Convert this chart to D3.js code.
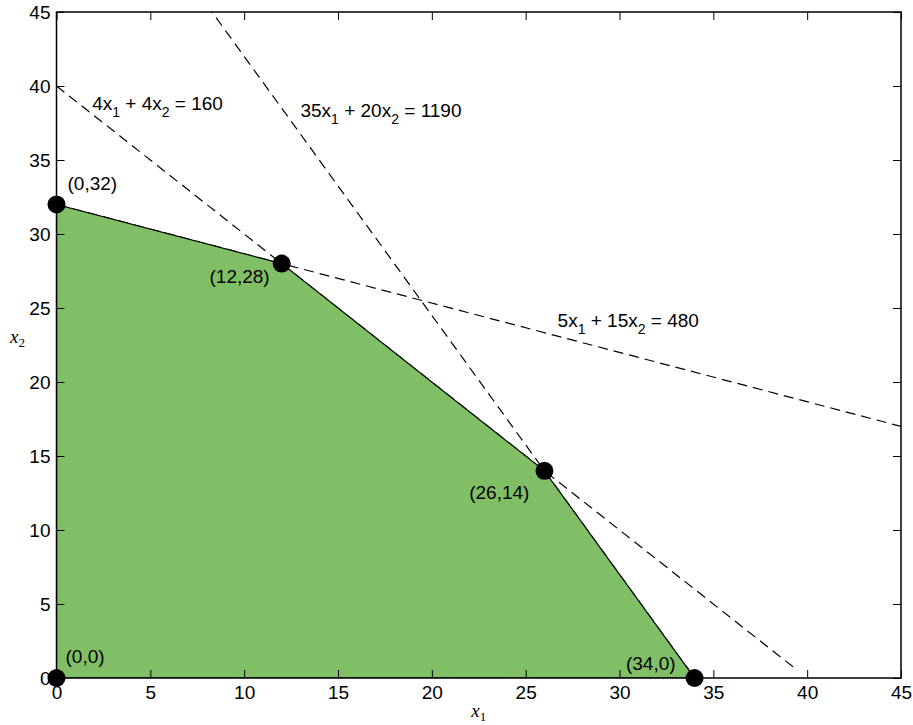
<!DOCTYPE html>
<html>
<head>
<meta charset="utf-8">
<script src="https://cdn.jsdelivr.net/npm/d3@7"></script>
<style>
  body { margin: 0; background: #fff; }
  text { font-family: "Liberation Sans", Arial, sans-serif; }
</style>
</head>
<body>
<svg id="chart" width="913" height="725"></svg>
<script>
// Feasible region corners (x1, x2)
const vertexX = [0, 0, 12, 26, 34];
const vertexY = [0, 32, 28, 14, 0];
const vertexLabels = ["(0,0)", "(0,32)", "(12,28)", "(26,14)", "(34,0)"];

// Constraint lines a*x1 + b*x2 = c
const coefA = [4, 35, 5];
const coefB = [4, 20, 15];
const coefC = [160, 1190, 480];

const xTicks = [0, 5, 10, 15, 20, 25, 30, 35, 40, 45];
const yTicks = [0, 5, 10, 15, 20, 25, 30, 35, 40, 45];

const svg = d3.select("#chart");
const margin = { top: 12, right: 12, bottom: 47, left: 56.5 };
const width = +svg.attr("width") - margin.left - margin.right;
const height = +svg.attr("height") - margin.top - margin.bottom;
const g = svg.append("g").attr("transform", `translate(${margin.left},${margin.top})`);

const x = d3.scaleLinear().domain([0, 45]).range([0, width]);
const y = d3.scaleLinear().domain([0, 45]).range([height, 0]);

svg.append("defs").append("clipPath").attr("id", "clip")
  .append("rect").attr("width", width).attr("height", height);

const plot = g.append("g").attr("clip-path", "url(#clip)");

// Constraint lines, dashed, across the whole x range
const lineData = coefA.map((a, i) => {
  const b = coefB[i], c = coefC[i];
  const pts = [];
  for (const xv of [0, 45]) pts.push([xv, (c - a * xv) / b]);
  return pts;
});
// the 4x1+4x2 line stops just short of the x1 axis
lineData[0] = [[0, 40], [39.5, 0.5]];

const line = d3.line().x(d => x(d[0])).y(d => y(d[1]));

plot.selectAll(".constraint")
  .data(lineData)
  .enter().append("path")
  .attr("class", "constraint")
  .attr("d", line)
  .attr("fill", "none")
  .attr("stroke", "#000")
  .attr("stroke-width", 1.2)
  .attr("stroke-dasharray", "10,6");

// Feasible region
const poly = vertexX.map((v, i) => [v, vertexY[i]]);
plot.append("path")
  .attr("d", line(poly) + "Z")
  .attr("fill", "#80bf66")
  .attr("stroke", "#000")
  .attr("stroke-width", 1.2);

// Axes box with inward ticks on all sides
const tickLen = 8;
g.append("g")
  .attr("transform", `translate(0,${height})`)
  .call(d3.axisBottom(x).tickValues(xTicks).tickSize(-tickLen).tickPadding(8))
  .call(a => a.select(".domain").remove());
g.append("g")
  .call(d3.axisTop(x).tickValues(xTicks).tickSize(-tickLen).tickFormat(""))
  .call(a => a.select(".domain").remove());
g.append("g")
  .call(d3.axisLeft(y).tickValues(yTicks).tickSize(-tickLen).tickPadding(6))
  .call(a => a.select(".domain").remove());
g.append("g")
  .attr("transform", `translate(${width},0)`)
  .call(d3.axisRight(y).tickValues(yTicks).tickSize(-tickLen).tickFormat(""))
  .call(a => a.select(".domain").remove());

g.selectAll(".tick line").attr("stroke", "#000").attr("stroke-width", 1);
g.selectAll(".tick text")
  .attr("fill", "#000")
  .style("font-size", "19px")
  .style("font-family", "'Liberation Sans', Arial, sans-serif");

g.append("rect")
  .attr("width", width).attr("height", height)
  .attr("fill", "none").attr("stroke", "#000").attr("stroke-width", 1.5);

// Corner markers
g.selectAll(".vertex")
  .data(poly)
  .enter().append("circle")
  .attr("class", "vertex")
  .attr("cx", d => x(d[0]))
  .attr("cy", d => y(d[1]))
  .attr("r", 9)
  .attr("fill", "#000");

// Corner labels (pixel offsets from each corner)
const labelOffsets = [[9, -15, "start"], [11, -14, "start"], [-12, 19, "end"], [-15, 28, "end"], [-19, -8, "end"]];
g.selectAll(".vlabel")
  .data(poly)
  .enter().append("text")
  .attr("class", "vlabel")
  .attr("x", (d, i) => x(d[0]) + labelOffsets[i][0])
  .attr("y", (d, i) => y(d[1]) + labelOffsets[i][1])
  .attr("text-anchor", (d, i) => labelOffsets[i][2])
  .style("font-size", "19px")
  .text((d, i) => vertexLabels[i]);

// Constraint equation labels
const eqPos = [[1.9, 38.4], [13.0, 37.9], [26.7, 23.7]];
eqPos.forEach((p, i) => {
  const t = g.append("text")
    .attr("x", x(p[0]))
    .attr("y", y(p[1]))
    .style("font-size", "19px");
  t.append("tspan").text(coefA[i] + "x");
  t.append("tspan").attr("dy", 7).style("font-size", "14px").text("1");
  t.append("tspan").attr("dy", -7).text(" + " + coefB[i] + "x");
  t.append("tspan").attr("dy", 7).style("font-size", "14px").text("2");
  t.append("tspan").attr("dy", -7).text(" = " + coefC[i]);
});

// Axis titles
const xt = svg.append("text")
  .attr("x", margin.left + x(22.5))
  .attr("y", 717)
  .attr("text-anchor", "middle")
  .style("font-family", "'Liberation Serif', 'DejaVu Serif', serif")
  .style("font-style", "italic")
  .style("font-size", "19px");
xt.append("tspan").text("x");
xt.append("tspan").attr("dy", 4).style("font-size", "13px").style("font-style", "normal").text("1");

const yt = svg.append("text")
  .attr("x", 10)
  .attr("y", 343)
  .style("font-family", "'Liberation Serif', 'DejaVu Serif', serif")
  .style("font-style", "italic")
  .style("font-size", "19px");
yt.append("tspan").text("x");
yt.append("tspan").attr("dy", 4).style("font-size", "13px").style("font-style", "normal").text("2");
</script>
</body>
</html>
